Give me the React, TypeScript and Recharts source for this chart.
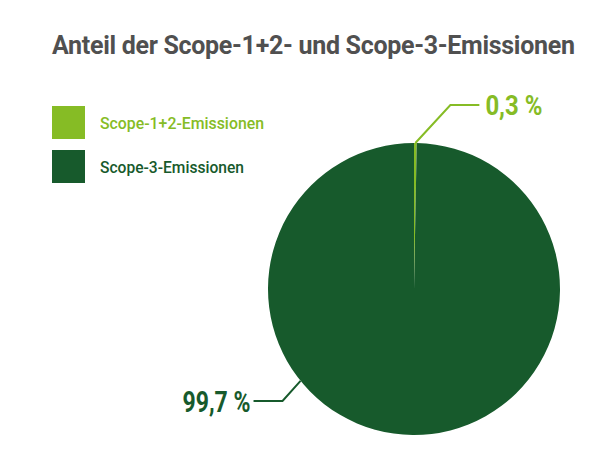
import React from 'react'
import { PieChart, Pie, Cell, Legend } from 'recharts'

const categories = ['Scope-1+2-Emissionen', 'Scope-3-Emissionen']
const shares = [0.3, 99.7]
const shareLabels = ['0,3 %', '99,7 %']
const colors = ['#86bc25', '#175a2c']
const title = 'Anteil der Scope-1+2- und Scope-3-Emissionen'

const data = categories.map((name, i) => ({ name, value: shares[i] }))

// no narrow font installed, so short texts get squeezed with textLength
const FONT = 'Roboto, "DejaVu Sans Condensed", sans-serif'
const RADIAN = Math.PI / 180

// the big slice's label sits lower left, not at its mid angle
const labelAngles = [null, 219]
const labelWidths = [57, 68]
const legendWidths = [164, 144]

function renderLabel(props: any) {
  const { cx, cy, outerRadius, midAngle, index } = props
  const ang = labelAngles[index] ?? midAngle
  const x0 = cx + outerRadius * Math.cos(-ang * RADIAN)
  const y0 = cy + outerRadius * Math.sin(-ang * RADIAN)
  const right = index === 0
  const ex = right ? x0 + 35 : x0 - 18
  const ey = right ? y0 - 38 : y0 + 20
  const tx = right ? ex + 29 : ex - 29
  return (
    <g>
      <polyline
        points={`${x0},${y0} ${ex},${ey} ${tx},${ey}`}
        fill="none"
        stroke={colors[index]}
        strokeWidth={2}
      />
      <text
        x={right ? tx + 6 : tx - 3 - labelWidths[index]}
        y={ey + (right ? 10 : 11)}
        textLength={labelWidths[index]}
        lengthAdjust="spacingAndGlyphs"
        fill={colors[index]}
        fontFamily={FONT}
        fontWeight="bold"
        fontSize={right ? 27 : 29}
      >
        {shareLabels[index]}
      </text>
    </g>
  )
}

function LegendBox() {
  return (
    <svg width={270} height={80} style={{ display: 'block' }}>
      {categories.map((c, i) => (
        <g key={c}>
          <rect x={0} y={i * 44} width={33} height={33} fill={colors[i]} />
          <text
            x={48}
            y={i * 44 + 23}
            textLength={legendWidths[i]}
            lengthAdjust="spacingAndGlyphs"
            fill={colors[i]}
            fontFamily={FONT}
            fontWeight={500}
            fontSize={17}
          >
            {c}
          </text>
        </g>
      ))}
    </svg>
  )
}

export default function App() {
  return (
    <div style={{ position: 'absolute', left: 0, top: 0, width: 600, height: 470, background: '#fff' }}>
      <div
        style={{
          position: 'absolute',
          left: 52,
          top: 31,
          fontFamily: FONT,
          fontWeight: 'bold',
          fontSize: 25,
          letterSpacing: -0.3,
          lineHeight: '30px',
          color: '#505050',
          whiteSpace: 'nowrap',
        }}
      >
        {title}
      </div>
      <PieChart width={600} height={470} margin={{ top: 0, right: 0, bottom: 0, left: 0 }}>
        <Pie
          data={data}
          dataKey="value"
          nameKey="name"
          cx={414}
          cy={289}
          outerRadius={146}
          startAngle={90}
          endAngle={-270}
          stroke="none"
          label={renderLabel}
          labelLine={false}
          isAnimationActive={false}
        >
          {data.map((d, i) => (
            <Cell key={d.name} fill={colors[i]} />
          ))}
        </Pie>
        <Legend
          content={<LegendBox />}
          wrapperStyle={{ position: 'absolute', left: 52, top: 106, width: 270 }}
        />
      </PieChart>
    </div>
  )
}
